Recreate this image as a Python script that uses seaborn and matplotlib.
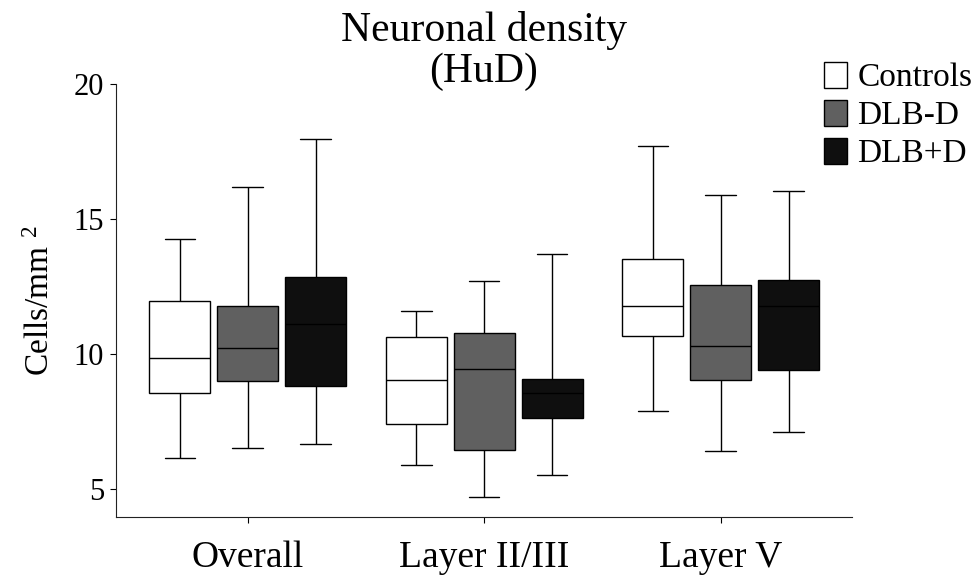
import numpy as np
import pandas as pd
import matplotlib
matplotlib.use("Agg")
import matplotlib.pyplot as plt
import seaborn as sns

regions = ["Overall", "Layer II/III", "Layer V"]
groups = ["Controls", "DLB-D", "DLB+D"]
colors = ["#ffffff", "#606060", "#0f0f0f"]

# five-number summaries: min, Q1, median, Q3, max
overall_controls = [6.16, 8.57, 9.86, 11.96, 14.26]
overall_dlb_minus = [6.52, 9.00, 10.21, 11.78, 16.20]
overall_dlb_plus = [6.68, 8.81, 11.10, 12.84, 17.95]

layer23_controls = [5.91, 7.43, 9.03, 10.62, 11.59]
layer23_dlb_minus = [4.72, 6.44, 9.44, 10.78, 12.72]
layer23_dlb_plus = [5.51, 7.62, 8.58, 9.07, 13.70]

layer5_controls = [7.88, 10.66, 11.80, 13.51, 17.72]
layer5_dlb_minus = [6.42, 9.03, 10.31, 12.57, 15.89]
layer5_dlb_plus = [7.10, 9.43, 11.80, 12.73, 16.06]

series = {
    ("Overall", "Controls"): overall_controls,
    ("Overall", "DLB-D"): overall_dlb_minus,
    ("Overall", "DLB+D"): overall_dlb_plus,
    ("Layer II/III", "Controls"): layer23_controls,
    ("Layer II/III", "DLB-D"): layer23_dlb_minus,
    ("Layer II/III", "DLB+D"): layer23_dlb_plus,
    ("Layer V", "Controls"): layer5_controls,
    ("Layer V", "DLB-D"): layer5_dlb_minus,
    ("Layer V", "DLB+D"): layer5_dlb_plus,
}

rows = []
for (region, group), vals in series.items():
    for v in vals:
        rows.append({"region": region, "group": group, "density": v})
df = pd.DataFrame(rows)

sns.set_style("ticks")
plt.rcParams["font.family"] = ["Liberation Serif", "DejaVu Serif"]
plt.rcParams["mathtext.fontset"] = "custom"
plt.rcParams["mathtext.rm"] = "Liberation Serif"
plt.rcParams["mathtext.it"] = "Liberation Serif:italic"
for key in ["text.color", "axes.labelcolor", "xtick.color", "ytick.color"]:
    plt.rcParams[key] = "black"
plt.rcParams["axes.edgecolor"] = "#222222"

fig, ax = plt.subplots(figsize=(9.79, 5.76), dpi=100)
fig.subplots_adjust(left=0.1185, right=0.870, bottom=0.1024, top=0.854)

sns.boxplot(
    data=df, x="region", y="density", hue="group",
    order=regions, hue_order=groups, palette=colors,
    saturation=1, width=0.86, gap=0.1, whis=(0, 100),
    linecolor="black", linewidth=1, ax=ax,
)

ax.set_ylim(3.97, 20)
ax.set_xlim(-0.557, 2.554)
ax.set_yticks([5, 10, 15, 20])
ax.set_xlabel("")
ax.set_ylabel("Cells/mm $^{2}$", fontsize=24, labelpad=13)
ax.tick_params(axis="y", labelsize=22, length=4.5, width=0.8, pad=4)
ax.tick_params(axis="x", labelsize=27, length=4, width=0.8, pad=13)
sns.despine(ax=ax)
for s in ["left", "bottom"]:
    ax.spines[s].set_linewidth(0.8)

ax.set_title("Neuronal density\n(HuD)", fontsize=30, linespacing=1.1,
             y=1.0, pad=1.5)

sns.move_legend(
    ax, "upper left", bbox_to_anchor=(824 / 979, 1 - 62 / 576),
    bbox_transform=fig.transFigure, title=None, frameon=False,
    fontsize=24, handlelength=0.7, handleheight=0.8, handletextpad=0.3,
    labelspacing=0.2, borderpad=0, borderaxespad=0,
)

fig.savefig("out.png", dpi=100)
